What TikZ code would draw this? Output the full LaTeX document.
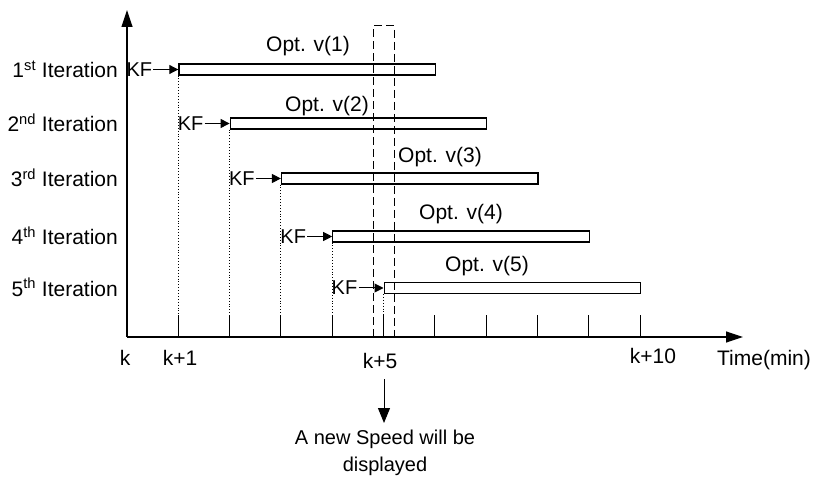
\documentclass[tikz,border=0pt]{standalone}
\usepackage{fontspec}
\setmainfont{Liberation Sans}
\usetikzlibrary{arrows.meta, calc, positioning}

\begin{document}
\begin{tikzpicture}[
    x=1pt, y=-1pt,
    axis/.style={line width=1.2pt, -{Triangle[length=17pt, width=11pt]}},
    bar/.style={draw, line width=1.2pt, rectangle, inner sep=0pt, minimum height=11pt, minimum width=256.5pt, anchor=west},
    lab/.style={font=\fontsize{21}{25}\selectfont, inner sep=0pt},
    kf/.style={font=\fontsize{20}{24}\selectfont, inner sep=1pt, anchor=east},
    kfarrow/.style={line width=1pt, -{Triangle[length=9pt, width=9pt]}},
    guide/.style={line width=0.9pt, dotted},
    window/.style={line width=1pt, dash pattern=on 8pt off 4pt},
  ]
  \useasboundingbox (0,0) rectangle (814,478);

  % --- axes ---
  \coordinate (O)    at (127,337);
  \coordinate (ytop) at (127,10);
  \coordinate (xend) at (743,337);
  \draw[axis] (O) -- (ytop);
  \draw[axis] (O) -- (xend);

  % one tick per minute
  \foreach \i in {1,...,10}
    \draw[line width=1pt] ($(O)+(51.3*\i,0)$) -- ++(0,-22);

  % --- the five iterations: bar, KF arrow, label ---
  \foreach \i/\yc/\ord/\ox/\oy in {1/69.5/st/308/52, 2/123.5/nd/327/112,
      3/178.5/rd/440/163, 4/236.5/th/461/220, 5/288/th/487/272} {
    \node[bar] (bar\i) at (127+51.3*\i, \yc) {};
    \node[lab, anchor=base east] (it\i) at (118, \yc+8.5) {\i\textsuperscript{\ord} Iteration};
    \node[kf] (kf\i) at ($(bar\i.west)+(-25,0)$) {KF};
    \draw[kfarrow] (kf\i) -- (bar\i);
    \node[lab, anchor=base] (opt\i) at (\ox,\oy) {Opt. v(\i)};
    \draw[guide] (bar\i.south west) -- (bar\i.south west |- O);
  }

  % dashed window round k+5
  \draw[window] (373,337) -- (373,26) -- (394,26) -- (394,337);

  % --- time labels ---
  \node[lab, anchor=base] (k0)   at (125,365) {k};
  \node[lab, anchor=base] (k1)   at (180,365) {k+1};
  \node[lab, anchor=base] (k5)   at (380,368) {k+5};
  \node[lab, anchor=base] (k10)  at (653,363) {k+10};
  \node[lab, anchor=base] (tlab) at (764,365) {Time(min)};

  \node[lab, font=\fontsize{20}{27}\selectfont, align=center, anchor=north] (speed) at (385,430)
    {A new Speed will be\\displayed};
  \draw[line width=1pt, -{Triangle[length=15pt, width=12pt]}, shorten <=11pt, shorten >=7pt]
    ([xshift=4pt]k5.south) -- ([xshift=4pt]k5.south |- speed.north);
\end{tikzpicture}
\end{document}
